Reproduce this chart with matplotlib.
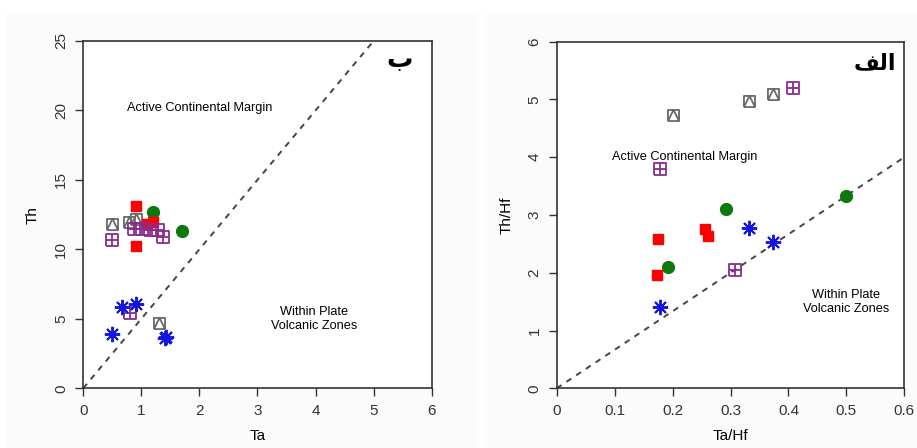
import matplotlib.pyplot as plt
import matplotlib.patches as patches
from matplotlib.path import Path

plt.rcParams['font.family'] = ['Liberation Sans', 'DejaVu Sans']

# left panel: Ta vs Th
ta_gray = [0.5, 0.79, 0.9, 1.3]
th_gray = [11.8, 11.95, 12.2, 4.7]
ta_green = [1.2, 1.7]
th_green = [12.7, 11.3]
ta_red = [0.9, 0.9, 1.1, 1.2]
th_red = [13.1, 10.25, 11.8, 12.0]
ta_purple = [0.88, 1.02, 1.15, 1.28, 1.38, 0.5, 0.8]
th_purple = [11.45, 11.45, 11.4, 11.4, 10.9, 10.65, 5.4]
ta_blue = [0.67, 0.9, 0.5, 1.4, 1.42]
th_blue = [5.85, 6.1, 3.9, 3.6, 3.7]

# right panel: Ta/Hf vs Th/Hf
tahf_gray = [0.2, 0.332, 0.374]
thhf_gray = [4.73, 4.98, 5.1]
tahf_green = [0.292, 0.192, 0.5]
thhf_green = [3.1, 2.1, 3.33]
tahf_red = [0.175, 0.173, 0.256, 0.261]
thhf_red = [2.58, 1.96, 2.76, 2.64]
tahf_purple = [0.408, 0.178, 0.308]
thhf_purple = [5.2, 3.8, 2.05]
tahf_blue = [0.332, 0.374, 0.178]
thhf_blue = [2.77, 2.53, 1.4]

# pch 14: square with triangle, pch 12: square with plus
sq = [(-1, -1), (-1, 1), (1, 1), (1, -1), (-1, -1)]
tri_path = Path(sq + [(-1, -1), (0, 1), (1, -1)],
                [Path.MOVETO] + [Path.LINETO] * 4 + [Path.MOVETO, Path.LINETO, Path.LINETO])
plus_path = Path(sq + [(-1, 0), (1, 0), (0, -1), (0, 1)],
                 [Path.MOVETO] + [Path.LINETO] * 4 + [Path.MOVETO, Path.LINETO, Path.MOVETO, Path.LINETO])

GRAY = '#6a6a6a'
GREEN = '#0b7a0b'
RED = '#ff0000'
PURPLE = '#8a2c8c'
BLUE = '#1515e0'

fig = plt.figure(figsize=(9.17, 4.48), dpi=100)
fig.patches.append(patches.Rectangle((6/917, 0), 469/917, 434/448, transform=fig.transFigure,
                                     color='#fbfbfb', zorder=-10))
fig.patches.append(patches.Rectangle((485/917, 0), 432/917, 434/448, transform=fig.transFigure,
                                     color='#fbfbfb', zorder=-10))

ax1 = fig.add_axes([0.0908, 0.1333, 0.3799, 0.7752])
ax2 = fig.add_axes([0.6071, 0.1333, 0.3791, 0.7737])


def style(ax, xt, yt):
    ax.set_facecolor('white')
    ax.set_xticks(xt)
    ax.set_yticks(yt)
    ax.tick_params(direction='out', length=6, width=1, pad=5, labelsize=11, colors='#333333')
    for lab in ax.get_yticklabels():
        lab.set_rotation(90)
        lab.set_va('center')
    for s in ax.spines.values():
        s.set_linewidth(1.2)
        s.set_color('#333333')


# left
ax1.plot([0, 6], [0, 30], ls=(0, (3, 3)), color='#444444', lw=1.4, zorder=2)
ax1.plot(ta_gray, th_gray, ls='none', marker=tri_path, ms=8, mfc='none', mec=GRAY, mew=1.3, zorder=3)
ax1.plot(ta_green, th_green, ls='none', marker='o', ms=8.5, color=GREEN, zorder=4)
ax1.plot(ta_red, th_red, ls='none', marker='s', ms=7.5, color=RED, zorder=5)
ax1.plot(ta_purple, th_purple, ls='none', marker=plus_path, ms=8, mfc='none', mec=PURPLE, mew=1.3, zorder=6)
ax1.plot(ta_blue, th_blue, ls='none', marker=(8, 2, 0), ms=11, mec=BLUE, mew=1.4, zorder=7)
ax1.set_xlim(0, 6)
ax1.set_ylim(0, 25)
style(ax1, range(0, 7), range(0, 26, 5))
ax1.set_xlabel('Ta', fontsize=11, labelpad=8)
ax1.set_ylabel('Th', fontsize=11, labelpad=10)
ax1.text(2.0, 20.2, 'Active Continental Margin', fontsize=9.2, ha='center', va='center')
ax1.text(3.98, 5.0, 'Within Plate\nVolcanic Zones', fontsize=9.2, ha='center', va='center',
         linespacing=1.2)
ax1.text(5.45, 23.6, 'ب', fontsize=19, fontweight='bold', ha='center', va='center',
         family='DejaVu Sans')

# right
ax2.plot([0, 0.6], [0, 4], ls=(0, (3, 3)), color='#444444', lw=1.4, zorder=2)
ax2.plot(tahf_gray, thhf_gray, ls='none', marker=tri_path, ms=8, mfc='none', mec=GRAY, mew=1.3, zorder=3)
ax2.plot(tahf_green, thhf_green, ls='none', marker='o', ms=8.5, color=GREEN, zorder=4)
ax2.plot(tahf_red, thhf_red, ls='none', marker='s', ms=7.5, color=RED, zorder=5)
ax2.plot(tahf_purple, thhf_purple, ls='none', marker=plus_path, ms=8, mfc='none', mec=PURPLE, mew=1.3, zorder=6)
ax2.plot(tahf_blue, thhf_blue, ls='none', marker=(8, 2, 0), ms=11, mec=BLUE, mew=1.4, zorder=7)
ax2.set_xlim(0, 0.6)
ax2.set_ylim(0, 6)
style(ax2, [0, 0.1, 0.2, 0.3, 0.4, 0.5, 0.6], range(0, 7))
ax2.set_xticklabels(['0', '0.1', '0.2', '0.3', '0.4', '0.5', '0.6'])
ax2.set_xlabel('Ta/Hf', fontsize=11, labelpad=8)
ax2.set_ylabel('Th/Hf', fontsize=11, labelpad=10)
ax2.text(0.221, 4.0, 'Active Continental Margin', fontsize=9.2, ha='center', va='center')
ax2.text(0.5, 1.5, 'Within Plate\nVolcanic Zones', fontsize=9.2, ha='center', va='center',
         linespacing=1.2)
ax2.text(0.549, 5.63, '\ufed2\ufedf\ufe8d', fontsize=16, fontweight='bold', ha='center', va='center',
         family='DejaVu Sans')

fig.savefig('out.png', dpi=100)
